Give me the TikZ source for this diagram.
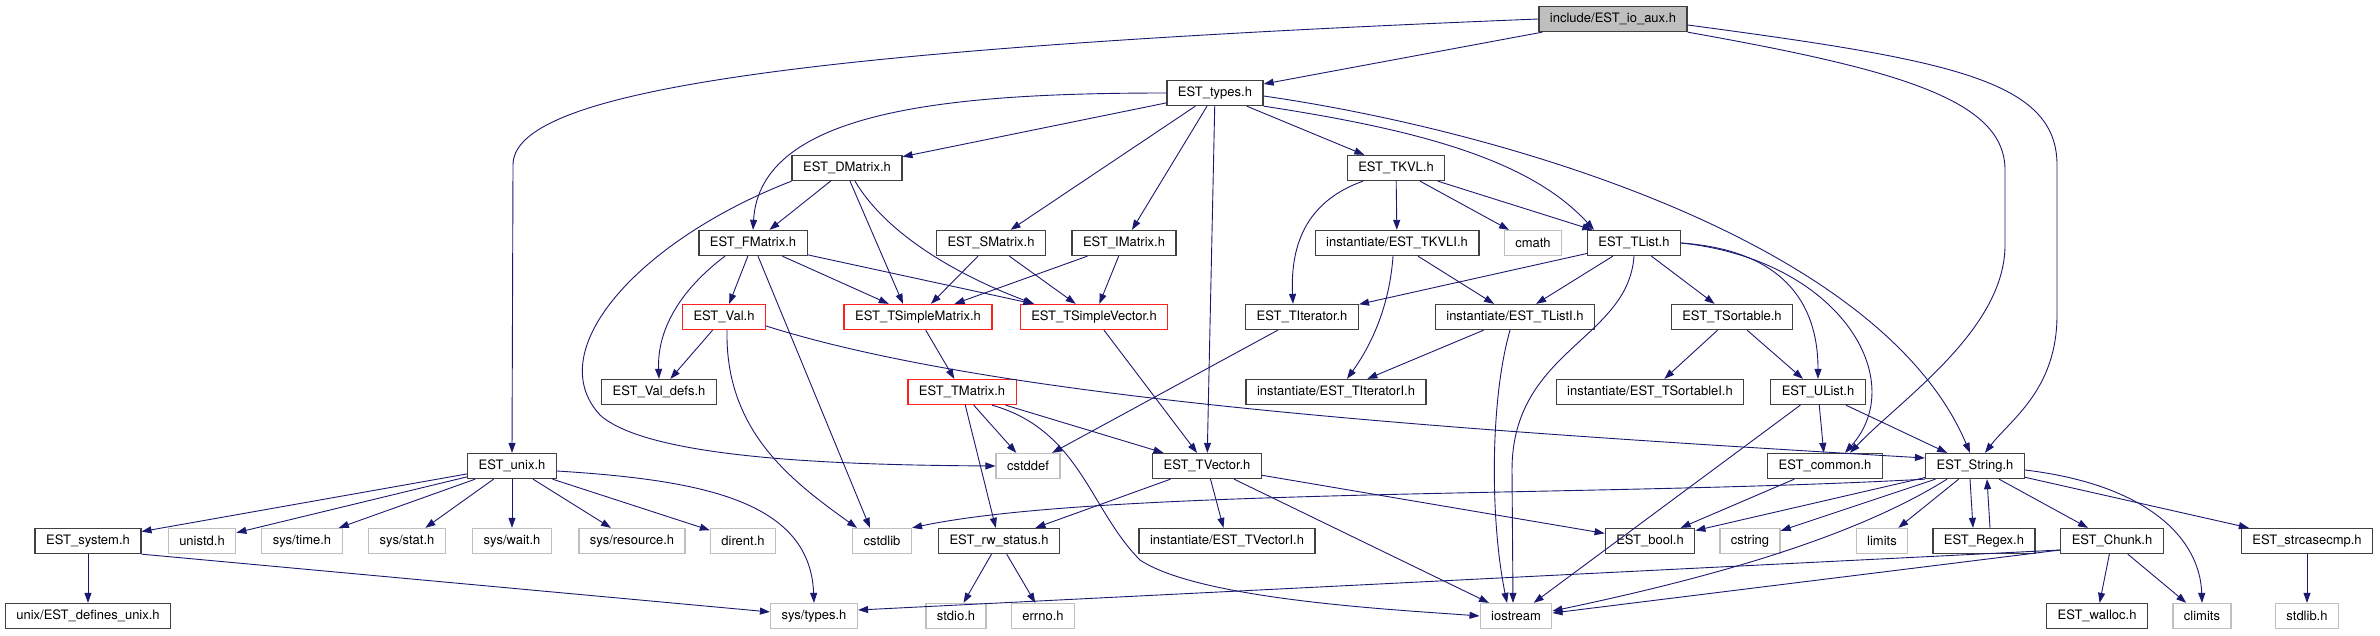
\documentclass[tikz,border=0pt]{standalone}
\usepackage{fontspec}
\setmainfont{TeX Gyre Heros}
\usetikzlibrary{arrows.meta}
\definecolor{edgeblue}{HTML}{191970}
\definecolor{boxgray}{HTML}{404040}
\definecolor{sysgray}{HTML}{BFBFBF}
\definecolor{truncred}{HTML}{FF2020}

\begin{document}
\begin{tikzpicture}[x=1pt,y=-1pt,
  hdr/.style={draw=boxgray,line width=1.3pt,fill=white,minimum height=25pt,
    inner xsep=11pt,inner ysep=0pt,font=\fontsize{13}{15}\selectfont},
  syshdr/.style={hdr,draw=sysgray},
  trunc/.style={hdr,draw=truncred},
  root/.style={hdr,fill=sysgray},
  dep/.style={draw=edgeblue,line width=0.9pt,-{Triangle[length=10pt,width=7pt]}}]
\useasboundingbox (0,0) rectangle (2380,635);
%%%%%%%%%%%%%%%%%%%% headers, row by row %%%%%%%%%%%%%%%%%%%%
\node[root] (io) at (1613,19) {include/EST\_io\_aux.h};
\node[hdr] (types) at (1215,93) {EST\_types.h};
\node[hdr] (dmat) at (847,168) {EST\_DMatrix.h};
\node[hdr] (tkvl) at (1396,168) {EST\_TKVL.h};
\node[hdr] (fmat) at (753,243) {EST\_FMatrix.h};
\node[hdr] (smat) at (991,243) {EST\_SMatrix.h};
\node[hdr] (imat) at (1124,243) {EST\_IMatrix.h};
\node[hdr] (tkvli) at (1397,243) {instantiate/EST\_TKVLI.h};
\node[syshdr] (cmath) at (1533,243) {cmath};
\node[hdr] (tlist) at (1634,243) {EST\_TList.h};
\node[trunc] (val) at (724,317) {EST\_Val.h};
\node[trunc] (tsmat) at (918,317) {EST\_TSimpleMatrix.h};
\node[trunc] (tsvec) at (1094,317) {EST\_TSimpleVector.h};
\node[hdr] (titer) at (1302,317) {EST\_TIterator.h};
\node[hdr] (tlisti) at (1515,317) {instantiate/EST\_TListI.h};
\node[hdr] (tsort) at (1732,317) {EST\_TSortable.h};
\node[hdr] (valdefs) at (659,392) {EST\_Val\_defs.h};
\node[trunc] (tmat) at (962,392) {EST\_TMatrix.h};
\node[hdr] (titeri) at (1336,392) {instantiate/EST\_TIteratorI.h};
\node[hdr] (tsorti) at (1650,392) {instantiate/EST\_TSortableI.h};
\node[hdr] (ulist) at (1818,392) {EST\_UList.h};
\node[hdr] (unix) at (512,466) {EST\_unix.h};
\node[syshdr] (cstddef) at (1028,466) {cstddef};
\node[hdr] (tvec) at (1207,466) {EST\_TVector.h};
\node[hdr] (common) at (1825,466) {EST\_common.h};
\node[hdr] (string) at (1975,466) {EST\_String.h};
\node[hdr] (system) at (88,541) {EST\_system.h};
\node[syshdr] (unistd) at (202,541) {unistd.h};
\node[syshdr] (systime) at (302,541) {sys/time.h};
\node[syshdr] (sysstat) at (407,541) {sys/stat.h};
\node[syshdr] (syswait) at (512,541) {sys/wait.h};
\node[syshdr] (sysres) at (632,541) {sys/resource.h};
\node[syshdr] (dirent) at (743,541) {dirent.h};
\node[syshdr] (cstdlib) at (882,541) {cstdlib};
\node[hdr] (rwstat) at (999,541) {EST\_rw\_status.h};
\node[hdr] (tveci) at (1227,541) {instantiate/EST\_TVectorI.h};
\node[hdr] (bool) at (1650,541) {EST\_bool.h};
\node[syshdr] (cstring) at (1750,541) {cstring};
\node[syshdr] (limits) at (1882,541) {limits};
\node[hdr] (regex) at (1984,541) {EST\_Regex.h};
\node[hdr] (chunk) at (2112,541) {EST\_Chunk.h};
\node[hdr] (strcase) at (2307,541) {EST\_strcasecmp.h};
\node[hdr] (defunix) at (88,616) {unix/EST\_defines\_unix.h};
\node[syshdr] (systypes) at (814,616) {sys/types.h};
\node[syshdr] (stdio) at (956,616) {stdio.h};
\node[syshdr] (errno) at (1043,616) {errno.h};
\node[syshdr] (iostream) at (1516,616) {iostream};
\node[hdr] (walloc) at (2097,616) {EST\_walloc.h};
\node[syshdr] (climits) at (2202,616) {climits};
\node[syshdr] (stdlib) at (2307,616) {stdlib.h};
%%%%%%%%%%%%%%%%%%%% include/EST_io_aux.h %%%%%%%%%%%%%%%%%%%%
\draw[dep] (io) -- (types);
\draw[dep] (io.west) .. controls (760,50) and (513,95) .. (513,165) -- (unix.north);
\draw[dep] ([yshift=-6pt]io.east) .. controls (1950,60) and (2057,80) .. (2057,165)
  -- (2057,315) .. controls (2057,390) and (2010,420) .. ([xshift=10pt]string.north);
\draw[dep] (io.south east) .. controls (1900,70) and (2005,100) .. (2005,170)
  -- (2005,245) .. controls (2005,330) and (1900,400) .. ([xshift=25pt]common.north);
%%%%%%%%%%%%%%%%%%%% EST_types.h %%%%%%%%%%%%%%%%%%%%
\draw[dep] (types) -- (dmat);
\draw[dep] (types.west) .. controls (950,93) and (760,110) .. (fmat.north);
\draw[dep] (types) -- (smat);
\draw[dep] (types) -- (imat);
\draw[dep] (types) -- (tvec);
\draw[dep] (types) -- (tkvl);
\draw[dep] (types.south east) .. controls (1420,130) and (1530,160) .. ([xshift=-40pt]tlist.north);
\draw[dep] ([yshift=-3pt]types.east) .. controls (1500,130) and (1880,240) .. ([xshift=-5pt]string.north);
%%%%%%%%%%%%%%%%%%%% matrices %%%%%%%%%%%%%%%%%%%%
\draw[dep] (dmat) -- (fmat);
\draw[dep] ([xshift=3pt]dmat.south) -- ([xshift=-15pt]tsmat.north);
\draw[dep] ([xshift=8pt]dmat.south) .. controls (890,240) and (970,280) .. ([xshift=-60pt]tsvec.north);
\draw[dep] (dmat.south west) .. controls (640,240) and (540,350) .. (600,415)
  .. controls (650,460) and (850,465) .. (cstddef.west);
\draw[dep] (fmat) -- (val);
\draw[dep] ([xshift=-28pt]fmat.south) .. controls (680,290) and (657,330) .. (valdefs.north);
\draw[dep] (fmat) -- (tsmat);
\draw[dep] (fmat) -- (tsvec);
\draw[dep] ([xshift=5pt]fmat.south) -- ([xshift=-12pt]cstdlib.north);
\draw[dep] (val) -- (valdefs);
\draw[dep] ([yshift=-9pt]val.east) .. controls (1000,400) and (1450,430) .. ([yshift=8pt]string.west);
\draw[dep] ([xshift=3pt]val.south) .. controls (725,430) and (790,480) .. ([xshift=-25pt]cstdlib.north);
\draw[dep] (smat) -- (tsmat);
\draw[dep] (smat) -- (tsvec);
\draw[dep] (imat) -- (tsmat);
\draw[dep] (imat) -- (tsvec);
\draw[dep] (tsmat) -- (tmat);
\draw[dep] (tsvec) -- (tvec);
\draw[dep] (tmat) -- (cstddef);
\draw[dep] (tmat) -- (tvec);
\draw[dep] (tmat) -- (rwstat);
\draw[dep] ([xshift=30pt]tmat.south) .. controls (1080,430) and (1090,510) .. (1140,560)
  .. controls (1200,600) and (1400,610) .. (iostream.west);
%%%%%%%%%%%%%%%%%%%% lists %%%%%%%%%%%%%%%%%%%%
\draw[dep] (tkvl) -- (tkvli);
\draw[dep] (tkvl) -- (cmath);
\draw[dep] (tkvl) -- (tlist);
\draw[dep] ([xshift=-33pt]tkvl.south) .. controls (1310,200) and (1290,240) .. ([xshift=-9pt]titer.north);
\draw[dep] (tkvli) -- (tlisti);
\draw[dep] ([xshift=-4pt]tkvli.south) .. controls (1390,300) and (1375,340) .. ([xshift=11pt]titeri.north);
\draw[dep] (tlist) -- (titer);
\draw[dep] (tlist) -- (tlisti);
\draw[dep] (tlist) -- (tsort);
\draw[dep] (tlist.east) .. controls (1780,250) and (1818,300) .. (ulist.north);
\draw[dep] (tlist.east) .. controls (1840,260) and (1910,380) .. ([xshift=20pt]common.north);
\draw[dep] (tlist.south) .. controls (1628,340) and (1512,350) .. (1512,470) -- ([xshift=-3pt]iostream.north);
\draw[dep] (titer) -- (cstddef);
\draw[dep] (tlisti) -- (titeri);
\draw[dep] ([xshift=-5pt]tlisti.south) .. controls (1490,400) and (1490,520) .. ([xshift=-9pt]iostream.north);
\draw[dep] (tsort) -- (tsorti);
\draw[dep] (tsort) -- (ulist);
\draw[dep] (ulist) -- (common);
\draw[dep] (ulist) -- (string);
\draw[dep] (ulist) -- (iostream);
%%%%%%%%%%%%%%%%%%%% EST_unix.h %%%%%%%%%%%%%%%%%%%%
\draw[dep] (unix) -- (system);
\draw[dep] (unix) -- (unistd);
\draw[dep] (unix) -- (systime);
\draw[dep] (unix) -- (sysstat);
\draw[dep] (unix) -- (syswait);
\draw[dep] (unix) -- (sysres);
\draw[dep] (unix) -- (dirent);
\draw[dep] ([yshift=-5pt]unix.east) .. controls (700,480) and (810,500) .. (systypes.north);
\draw[dep] (system) -- (defunix);
\draw[dep] (system.south east) -- (systypes);
%%%%%%%%%%%%%%%%%%%% vectors %%%%%%%%%%%%%%%%%%%%
\draw[dep] (tvec) -- (tveci);
\draw[dep] (tvec) -- (rwstat);
\draw[dep] (tvec) -- (iostream);
\draw[dep] (tvec) -- (bool);
\draw[dep] (rwstat) -- (stdio);
\draw[dep] (rwstat) -- (errno);
%%%%%%%%%%%%%%%%%%%% EST_String.h %%%%%%%%%%%%%%%%%%%%
\draw[dep] (common) -- (bool);
\draw[dep] (string.south west) .. controls (1600,497) and (1100,488) .. (cstdlib.north east);
\draw[dep] (string) -- (bool);
\draw[dep] (string) -- (cstring);
\draw[dep] (string) -- (limits);
\draw[dep] ([xshift=-5pt]string.south) -- ([xshift=-11pt]regex.north);
\draw[dep] ([xshift=6pt]regex.north) -- ([xshift=12pt]string.south);
\draw[dep] (string) -- (chunk);
\draw[dep] ([yshift=-4pt]string.east) .. controls (2150,485) and (2200,540) .. (climits.north);
\draw[dep] (string) -- (strcase);
\draw[dep] ([xshift=-28pt]string.south) .. controls (1850,540) and (1700,580) .. ([yshift=5pt]iostream.east);
\draw[dep] (chunk) -- (walloc);
\draw[dep] (chunk) -- (climits);
\draw[dep] ([yshift=-9pt]chunk.west) -- ([yshift=6pt]systypes.east);
\draw[dep] ([yshift=-9pt]chunk.west) -- ([yshift=3pt]iostream.east);
\draw[dep] (strcase) -- (stdlib);
\end{tikzpicture}
\end{document}
